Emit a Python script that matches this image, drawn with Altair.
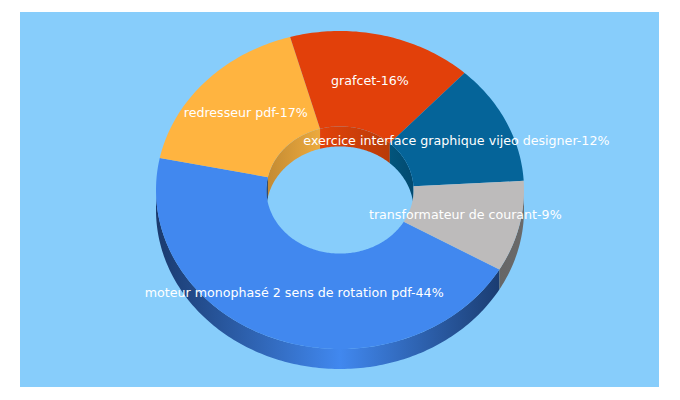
import math
import altair as alt

# Values
names = ["moteur monophasé 2 sens de rotation pdf", "redresseur pdf", "grafcet",
         "exercice interface graphique vijeo designer", "transformateur de courant"]
percent_labels = [44, 17, 16, 12, 9]
shares = [44.9, 17.4, 16.2, 12.25, 9.25]
top_colors = ["#4188ef", "#ffb440", "#e2400a", "#056499", "#bdbbbb"]
# wall shading: [dark end, mid, dark end] colours
outer_wall = {
    0: ["#1a3a6e", "#4188ef", "#1b3d72"],
    4: ["#5c5c5c", "#666666", "#6a6a6a"],
}
inner_wall = {
    0: ["#1a3a6e", "#1a3a6e"],
    1: ["#c48b33", "#ecaa3e"],
    2: ["#e2420a", "#b83b08"],
    3: ["#02557c", "#024a70"],
    4: ["#02557c", "#024a70"],
}
background_color = "#87cdfb"
start_angle = 120.0   # degrees clockwise from top
hole = 0.4
tilt = 159 / 184      # vertical squash of the disc
depth = 20 / 184      # thickness, in radii


def pts(a0, a1, r, drop=0.0):
    n = max(2, int(abs(a1 - a0)) + 2)
    out = []
    for i in range(n):
        a = math.radians(a0 + (a1 - a0) * i / (n - 1))
        out.append([r * math.sin(a), r * tilt * math.cos(a) - drop])
    return out


def feature(ring):
    ring = ring + [ring[0]]
    return {"type": "Feature", "properties": {}, "geometry": {"type": "Polygon", "coordinates": [ring]}}


def shape(ring, fill):
    return alt.Chart(alt.Data(values=[feature(ring)])).mark_geoshape(fill=fill, strokeWidth=0)


def grad(colors, offsets):
    return alt.LinearGradient(
        gradient="linear", x1=0, x2=1, y1=0, y2=0,
        stops=[alt.GradientStop(color=c, offset=o) for c, o in zip(colors, offsets)],
    )


spans = []
a = start_angle
for s in shares:
    spans.append((a, a + s * 3.6))
    a += s * 3.6

outer_layers, inner_layers, top_layers = [], [], []
for i, (a0, a1) in enumerate(spans):
    # outer wall: front half only (90..270)
    for shift in (0, -360):
        lo, hi = max(a0 + shift, 90), min(a1 + shift, 270)
        if lo < hi and i in outer_wall:
            ring = pts(lo, hi, 1) + pts(hi, lo, 1, depth)
            xs = [p[0] for p in ring]
            mid = (0 - min(xs)) / (max(xs) - min(xs))
            mid = min(max(mid, 0), 1)
            outer_layers.append(shape(ring, grad(outer_wall[i], [0, mid, 1])))
    # inner wall: back half only (270..450)
    for shift in (0, 360):
        lo, hi = max(a0 + shift, 270), min(a1 + shift, 450)
        if lo < hi:
            ring = pts(lo, hi, hole) + pts(hi, lo, hole, depth)
            inner_layers.append(shape(ring, grad(inner_wall[i], [0, 1])))
    # top face
    top_layers.append(shape(pts(a0, a1, 1) + pts(a1, a0, hole), top_colors[i]))

labels = []
for i, (a0, a1) in enumerate(spans):
    m = math.radians((a0 + a1) / 2)
    labels.append({
        "label": f"{names[i]}-{percent_labels[i]}%",
        "lon": 0.7 * math.sin(m),
        "lat": 0.7 * tilt * math.cos(m),
    })

backdrop = alt.Chart(alt.Data(values=[{"fill": background_color}])).mark_rect(
    color=background_color
).encode(x=alt.value(0), x2=alt.value(639), y=alt.value(0), y2=alt.value(375))

text = alt.Chart(alt.Data(values=labels)).mark_text(
    font="DejaVu Sans", fontSize=12.65, color="white", align="center", baseline="middle", dy=-1
).encode(longitude="lon:Q", latitude="lat:Q", text="label:N")

chart = alt.layer(backdrop, *outer_layers, *inner_layers, *top_layers, text).project(
    type="identity", scale=184, translate=[320, 178], reflectY=True
).properties(
    width=639, height=375, background="white",
    padding={"left": 12, "top": 4, "right": 0, "bottom": 0},
).configure_view(stroke=None)

chart.save("out.html", embed_options={"renderer": "svg", "actions": False})
